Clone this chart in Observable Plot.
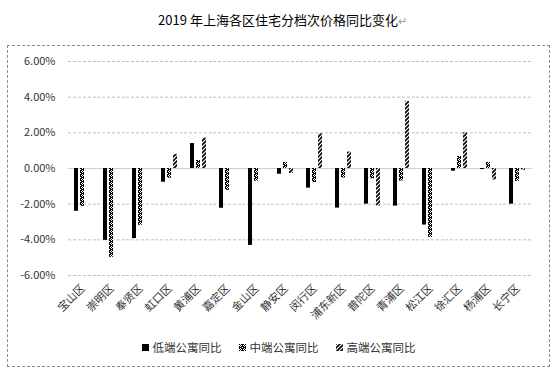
<!DOCTYPE html>
<html><head><meta charset="utf-8">
<script src="https://cdn.jsdelivr.net/npm/d3@7"></script>
<script src="https://cdn.jsdelivr.net/npm/@observablehq/plot@0.6"></script>
<style>
body{margin:0;background:#fff;font-family:"Noto Sans CJK SC","Noto Sans",sans-serif;}
#title{position:absolute;left:0;top:11px;width:565px;text-align:center;font-size:13px;line-height:18px;color:#000;}
#title .pm{color:#999;font-size:11px;}
#frame{position:absolute;left:7px;top:45px;width:541px;height:320px;border:1px dashed #8c8c8c;}
#chart{position:absolute;left:0;top:0;}
#legend{position:absolute;left:0;top:292px;width:541px;height:18px;display:flex;justify-content:center;gap:17px;font-size:11.5px;line-height:18px;color:#333;}
#legend .it{display:flex;align-items:center;gap:4px;}
</style>
</head><body>
<div id="title">2019 年上海各区住宅分档次价格同比变化<span class="pm">↵</span></div>
<div id="frame"><div id="chart"></div><div id="legend"></div></div>
<script>
const districts = ["宝山区","崇明区","奉贤区","虹口区","黄浦区","嘉定区","金山区","静安区","闵行区","浦东新区","普陀区","青浦区","松江区","徐汇区","杨浦区","长宁区"];
const seriesNames = ["低端公寓同比","中端公寓同比","高端公寓同比"];
const lowValues  = [-2.40,-4.03,-3.93,-0.77, 1.40,-2.23,-4.31,-0.32,-1.10,-2.22,-2.00,-2.11,-3.17,-0.15,-0.06,-2.00];
const midValues  = [-2.12,-4.98,-3.18,-0.54, 0.45,-1.22,-0.71, 0.34,-0.79,-0.53,-0.58,-0.71,-3.86, 0.67, 0.34,-0.72];
const highValues = [ 0.00, 0.00, 0.00, 0.79, 1.70, 0.00, 0.00,-0.28, 1.94, 0.92,-2.10, 3.76, 0.00, 2.00,-0.64,-0.10];
const yTicks = [-6,-4,-2,0,2,4,6];

const fills = {"低端公寓同比":"#000","中端公寓同比":"url(#pat-mid)","高端公寓同比":"url(#pat-high)"};
const seriesValues = [lowValues, midValues, highValues];
const data = [];
districts.forEach((d,i)=>seriesNames.forEach((s,j)=>data.push({district:d, series:s, value:seriesValues[j][i]})));

const plot = Plot.plot({
  width: 541, height: 280,
  marginLeft: 59, marginRight: 16, marginTop: 15, marginBottom: 51,
  style: {fontFamily: '"Noto Sans CJK SC","Noto Sans",sans-serif', fontSize: "11px", color: "#333", background: "#fff"},
  fx: {domain: districts, paddingInner: 0, paddingOuter: 0, label: null},
  x: {domain: seriesNames, paddingInner: 0.2857, paddingOuter: 0.72, axis: null},
  y: {domain: [-6, 6], label: null},
  marks: [
    Plot.ruleY(yTicks.filter(t=>t!==0), {stroke: "#c0c0c0", strokeDasharray: "3,2", strokeWidth: 1}),
    Plot.axisY(yTicks, {tickSize: 0, tickPadding: 13, tickFormat: d => d.toFixed(2) + "%", label: null, fontSize: 11}),
    Plot.axisFx({anchor: "bottom", tickSize: 0, tickPadding: 11, tickRotate: -45, label: null, fontSize: 11}),
    Plot.ruleY([0], {stroke: "#d0d0d0", strokeWidth: 1}),
    Plot.barY(data, {fx: "district", x: "series", y: "value", fill: d => fills[d.series]})
  ]
});

const defs = `
<pattern id="pat-mid" patternUnits="userSpaceOnUse" width="4" height="4">
  <rect width="4" height="4" fill="#000"/>
  <rect x="1" y="0" width="1" height="1" fill="#fff"/>
  <rect x="0" y="1" width="1" height="1" fill="#fff"/>
  <rect x="2" y="1" width="1" height="1" fill="#fff"/>
  <rect x="1" y="2" width="1" height="1" fill="#fff"/>
  <rect x="3" y="3" width="1" height="1" fill="#fff"/>
</pattern>
<pattern id="pat-high" patternUnits="userSpaceOnUse" width="4" height="4">
  <rect width="4" height="4" fill="#fff"/>
  <path d="M-1,1 L1,-1 M0,4 L4,0 M3,5 L5,3" stroke="#000" stroke-width="1.6"/>
</pattern>`;
d3.select(plot).insert("defs", ":first-child").html(defs);
document.getElementById("chart").appendChild(plot);

const legend = d3.select("#legend");
seriesNames.forEach(s => {
  const it = legend.append("div").attr("class","it");
  const sv = it.append("svg").attr("width",7).attr("height",7);
  sv.append("rect").attr("width",7).attr("height",7).attr("fill",fills[s]);
  it.append("span").text(s);
});
</script>
</body></html>
